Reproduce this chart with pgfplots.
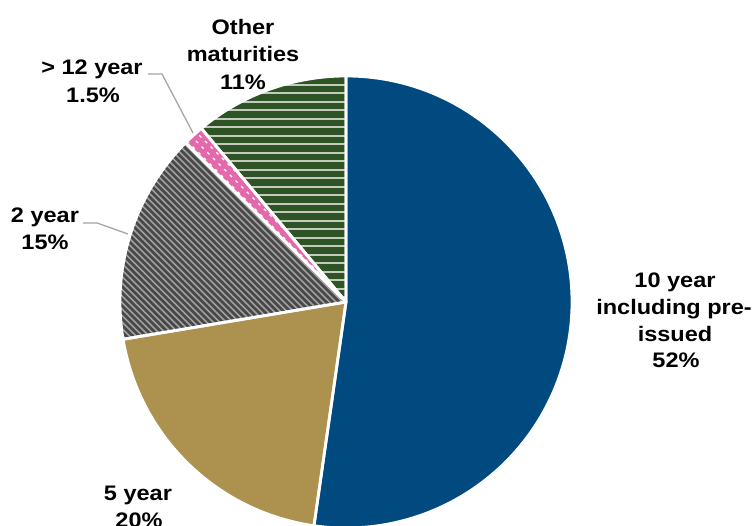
\documentclass[border=0pt]{standalone}
\usepackage{fontspec}
\setmainfont{Liberation Sans}[FakeStretch=1.12]
\usepackage{pgfplots}
\pgfplotsset{compat=1.18}
\usepackage{pgfplotstable}

\definecolor{cblue}{RGB}{0,74,128}
\definecolor{ctan}{RGB}{173,145,79}
\definecolor{cgray}{RGB}{72,72,72}
\definecolor{cgrayl}{RGB}{160,160,160}
\definecolor{cpink}{RGB}{228,105,170}
\definecolor{cgreen}{RGB}{46,84,37}
\definecolor{cgreenl}{RGB}{196,202,190}
\definecolor{clead}{RGB}{165,165,165}

\pgfplotstableread{
name value
ten 52
five 20
two 15
gt12 1.5
other 11
}\piedata

\pgfplotstablegetelem{0}{value}\of\piedata \pgfmathsetmacro\va{\pgfplotsretval}
\pgfplotstablegetelem{1}{value}\of\piedata \pgfmathsetmacro\vb{\pgfplotsretval}
\pgfplotstablegetelem{2}{value}\of\piedata \pgfmathsetmacro\vc{\pgfplotsretval}
\pgfplotstablegetelem{3}{value}\of\piedata \pgfmathsetmacro\vd{\pgfplotsretval}
\pgfplotstablegetelem{4}{value}\of\piedata \pgfmathsetmacro\ve{\pgfplotsretval}
\pgfmathsetmacro\Ssum{\va+\vb+\vc+\vd+\ve}
\pgfmathsetmacro\aA{90}
\pgfmathsetmacro\aB{90-(\va/\Ssum)*360}
\pgfmathsetmacro\aC{90-((\va+\vb)/\Ssum)*360}
\pgfmathsetmacro\aD{90-((\va+\vb+\vc)/\Ssum)*360}
\pgfmathsetmacro\aE{90-((\va+\vb+\vc+\vd)/\Ssum)*360}
\pgfmathsetmacro\aF{-270}

\newcommand\slice[2]{(axis cs:346,224) -- ++(#1:226bp) arc[start angle=#1, end angle=#2, radius=226bp] -- cycle}

\begin{document}
\begin{tikzpicture}
\begin{axis}[name=ax, at={(0,0)}, anchor=south west,
  width=755bp, height=526bp, scale only axis,
  xmin=0, xmax=755, ymin=0, ymax=526, hide axis, clip=false]
\pgfplotsextra{
  \fill[cblue] \slice{\aA}{\aB};
  \fill[ctan] \slice{\aB}{\aC};
  % 2 year: dark gray with light downward diagonals
  \begin{scope}
    \clip \slice{\aC}{\aD};
    \fill[cgray] \slice{\aC}{\aD};
    \foreach \c [evaluate=\c as \ca using \c-600, evaluate=\c as \cb using \c+100] in {300,306.5,...,740}
      \draw[cgrayl, line width=1.5bp] (axis cs:\ca,600) -- (axis cs:\cb,-100);
  \end{scope}
  % > 12 year: pink with white dashes
  \begin{scope}
    \clip \slice{\aD}{\aE};
    \fill[cpink] \slice{\aD}{\aE};
    \foreach \c [evaluate=\c as \ca using \c-600, evaluate=\c as \cb using \c+100] in {500,509,...,760}
      \draw[white, line width=1.2bp, dash pattern=on 3bp off 5bp] (axis cs:\ca,600) -- (axis cs:\cb,-100);
  \end{scope}
  % other: dark green with light horizontal lines
  \begin{scope}
    \clip \slice{\aE}{\aF};
    \fill[cgreen] \slice{\aE}{\aF};
    \foreach \y in {228.5,237,...,452}
      \draw[cgreenl, line width=2bp] (axis cs:100,\y) -- (axis cs:360,\y);
  \end{scope}
  % white separators
  \draw[white, line width=2.8bp, line join=round] \slice{\aA}{\aB};
  \draw[white, line width=2.8bp, line join=round] \slice{\aB}{\aC};
  \draw[white, line width=2.8bp, line join=round] \slice{\aC}{\aD};
  \draw[white, line width=2.8bp, line join=round] \slice{\aD}{\aE};
  \draw[white, line width=2.8bp, line join=round] \slice{\aE}{\aF};
}
% leader lines
\draw[clead, line width=1.3bp] (axis cs:148,452) -- (axis cs:162,452) -- (axis cs:193,393);
\draw[clead, line width=1.3bp] (axis cs:83,303) -- (axis cs:97,303) -- (axis cs:128,292);
% labels
\tikzset{lbl/.style={font=\fontsize{21bp}{27.5bp}\selectfont\bfseries, inner sep=0pt, anchor=base, text=black}}
\node[lbl] at (axis cs:243,491) {Other};
\node[lbl] at (axis cs:243,464) {maturities};
\node[lbl] at (axis cs:243,436) {11\%};
\node[lbl] at (axis cs:92,451) {> 12 year};
\node[lbl] at (axis cs:93,423) {1.5\%};
\node[lbl] at (axis cs:45,303) {2 year};
\node[lbl] at (axis cs:45,276) {15\%};
\node[lbl] at (axis cs:675,238) {10 year};
\node[lbl] at (axis cs:674,211) {including pre-};
\node[lbl] at (axis cs:675,184) {issued};
\node[lbl] at (axis cs:676,158) {52\%};
\node[lbl] at (axis cs:138,26) {5 year};
\node[lbl] at (axis cs:139,-1) {20\%};
\end{axis}
\pgfresetboundingbox
\path (ax.south west) rectangle (ax.north east);
\end{tikzpicture}
\end{document}
